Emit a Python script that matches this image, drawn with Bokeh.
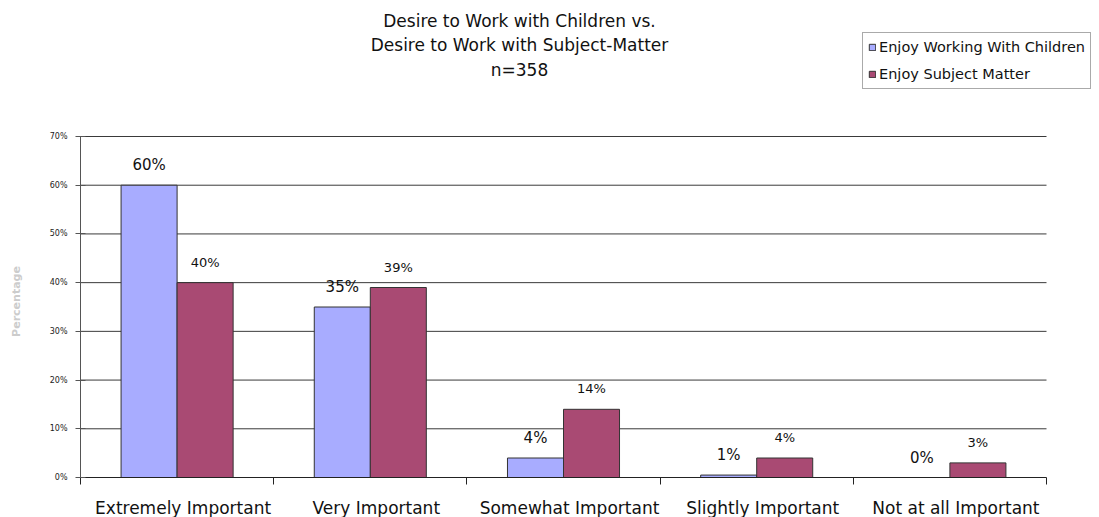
from bokeh.plotting import figure
from bokeh.models import (ColumnDataSource, FixedTicker, Range1d, Legend, LegendItem,
                          Label, LinearAxis)
from bokeh.core.properties import value
from bokeh.transform import dodge
from bokeh.embed import file_html
from bokeh.resources import INLINE

categories = ["Extremely Important", "Very Important", "Somewhat Important",
              "Slightly Important", "Not at all Important"]
children = [60, 35, 4, 0.5, 0]
children_labels = ["60%", "35%", "4%", "1%", "0%"]
subject = [40, 39, 14, 4, 3]
subject_labels = ["40%", "39%", "14%", "4%", "3%"]
series_names = ["Enjoy Working With Children", "Enjoy Subject Matter"]
colors = ["#a8acff", "#a94a73"]
title_lines = ["Desire to Work with Children vs.", "Desire to Work with Subject-Matter", "n=358"]
y_ticks = [0, 10, 20, 30, 40, 50, 60, 70]
y_axis_title = "Percentage"

FONT = "DejaVu Sans"

# layout (pixels)
W, H = 1099, 517
LEFT, BOTTOM = 80, 40
FRAME_W, FRAME_H = W - LEFT, H - BOTTOM        # frame reaches top and right edges
PLOT_W, PLOT_H = 966, 341                       # area occupied by the category axis / 0-70%
N = len(categories)
YMAX = y_ticks[-1]

x_end = N * FRAME_W / PLOT_W
y_end = YMAX * FRAME_H / PLOT_H
label_shift = 6 * N / PLOT_W                    # category labels sit ~6px right of centre

centers = [i + 0.5 for i in range(N)]
src = ColumnDataSource(dict(x=centers, children=children, subject=subject,
                            cl=children_labels, sl=subject_labels))

p = figure(width=W, height=H, frame_width=FRAME_W, frame_height=FRAME_H,
           output_backend="svg", toolbar_location=None,
           x_range=Range1d(0, x_end), y_range=Range1d(0, y_end),
           min_border_left=LEFT, min_border_right=0, min_border_top=0,
           min_border_bottom=BOTTOM, x_axis_type=None)
p.outline_line_color = None
p.background_fill_color = "white"
p.border_fill_color = "white"
p.xgrid.grid_line_color = None
p.ygrid.grid_line_color = None

# horizontal gridlines, limited to the category area
gy = y_ticks[1:]
p.segment(x0=[0] * len(gy), y0=gy, x1=[N] * len(gy), y1=gy,
          line_color="#3a3a3a", line_width=1)

w = 0.29
r1 = p.vbar(x=dodge("x", -w / 2, range=p.x_range), top="children", width=w, source=src,
            fill_color=colors[0], line_color="#333333", line_width=1)
r2 = p.vbar(x=dodge("x", w / 2, range=p.x_range), top="subject", width=w, source=src,
            fill_color=colors[1], line_color="#333333", line_width=1)

p.text(x=dodge("x", -w / 2, range=p.x_range), y="children", text="cl", source=src,
       text_align="center", text_baseline="bottom", y_offset=-11,
       text_font=value(FONT), text_font_size="15px", text_color="#111111")
p.text(x=dodge("x", w / 2, range=p.x_range), y="subject", text="sl", source=src,
       text_align="center", text_baseline="bottom", y_offset=-13,
       text_font=value(FONT), text_font_size="13px", text_color="#111111")

# y axis (0-70 %)
ya = p.yaxis[0]
ya.bounds = (0, YMAX)
ya.ticker = FixedTicker(ticks=y_ticks)
ya.major_label_overrides = {t: f"{t}%" for t in y_ticks}
ya.major_label_text_font = FONT
ya.major_label_text_font_size = "8px"
ya.major_label_text_color = "#222222"
ya.major_tick_in = 5
ya.major_tick_out = 5
ya.minor_tick_line_color = None
ya.axis_line_color = "#555555"
ya.major_tick_line_color = "#555555"
ya.major_label_standoff = 8

# "Percentage" title, centred on the 0-70% span
pct_mid = (H - 301 - BOTTOM) / PLOT_H * YMAX
ya2 = LinearAxis(ticker=FixedTicker(ticks=[pct_mid]))
ya2.major_label_overrides = {pct_mid: y_axis_title}
ya2.major_label_orientation = "vertical"
ya2.major_label_text_font = FONT
ya2.major_label_text_font_style = "bold"
ya2.major_label_text_font_size = "11px"
ya2.major_label_text_color = "#cccccc"
ya2.major_tick_in = 0
ya2.major_tick_out = 0
ya2.minor_tick_line_color = None
ya2.axis_line_color = None
ya2.major_label_standoff = 24
p.add_layout(ya2, "left")

# x axis
label_pos = [c + label_shift for c in centers]
xa = LinearAxis(ticker=FixedTicker(ticks=label_pos, minor_ticks=list(range(N + 1))),
                bounds=(0, N))
xa.major_label_overrides = {c: n for c, n in zip(label_pos, categories)}
xa.major_label_text_font = FONT
xa.major_label_text_font_size = "17px"
xa.major_label_text_color = "#111111"
xa.major_tick_in = 0
xa.major_tick_out = 0
xa.minor_tick_in = 0
xa.minor_tick_out = 7
xa.minor_tick_line_color = "#222222"
xa.axis_line_color = "#222222"
xa.major_label_standoff = 13
p.add_layout(xa, "below")

# title (screen units, relative to the frame's lower-left corner)
p.add_layout(Label(x=519 - LEFT, y=FRAME_H - 10, x_units="screen", y_units="screen",
                   text="\n".join(title_lines), text_align="center", text_baseline="top",
                   text_font=FONT, text_font_size="17px", text_color="#111111",
                   text_line_height=1.24))

legend = Legend(items=[LegendItem(label=series_names[0], renderers=[r1]),
                       LegendItem(label=series_names[1], renderers=[r2])],
                location=(862 - LEFT, FRAME_H - 89), orientation="vertical",
                label_text_font=FONT, label_text_font_size="14.5px",
                label_text_color="#111111", glyph_width=8, glyph_height=8,
                label_standoff=3, padding=5, spacing=9, margin=0,
                label_height=18, border_line_color="#555555",
                background_fill_alpha=1)
p.add_layout(legend, "center")

open("out.html", "w").write(file_html(p, INLINE))
